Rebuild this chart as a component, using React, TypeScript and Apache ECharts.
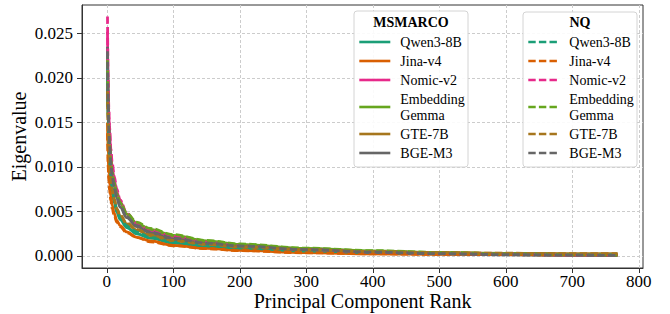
import React, { useEffect, useRef } from "react";
import * as echarts from "echarts";

const FONT = "Liberation Serif, Times New Roman, serif";

const ranks = [1, 2, 3, 4, 6, 8, 11, 15, 20, 30, 45, 65, 100, 150, 200, 300, 400, 500, 600, 700, 768];

const models = ["Qwen3-8B", "Jina-v4", "Nomic-v2", "Embedding Gemma", "GTE-7B", "BGE-M3"];
const colors = ["#1b9e77", "#d95f02", "#e7298a", "#66a61e", "#a6761d", "#666666"];

const qwenMS = [0.0205, 0.0150, 0.0124, 0.0107, 0.0086, 0.0073, 0.0060, 0.0049, 0.0041, 0.0032, 0.0025, 0.0020, 0.00145, 0.00105, 0.00082, 0.00052, 0.00036, 0.00027, 0.00021, 0.00017, 0.00015];
const qwenNQ = [0.0212, 0.0156, 0.0128, 0.0110, 0.0089, 0.0076, 0.0063, 0.0051, 0.0043, 0.0034, 0.0027, 0.0021, 0.00155, 0.00112, 0.00088, 0.00056, 0.00039, 0.00029, 0.00022, 0.00018, 0.00016];
const jinaMS = [0.0150, 0.0112, 0.0093, 0.0081, 0.0067, 0.0057, 0.0048, 0.0040, 0.0034, 0.0027, 0.0021, 0.0017, 0.00120, 0.00085, 0.00063, 0.00037, 0.00025, 0.00019, 0.00015, 0.00013, 0.00012];
const jinaNQ = [0.0138, 0.0100, 0.0084, 0.0074, 0.0062, 0.0053, 0.0046, 0.0038, 0.0033, 0.0026, 0.0021, 0.0016, 0.00115, 0.00082, 0.00060, 0.00036, 0.00024, 0.00018, 0.00015, 0.00013, 0.00012];
const nomicMS = [0.0252, 0.0188, 0.0158, 0.0139, 0.0115, 0.0100, 0.0086, 0.0072, 0.0061, 0.0047, 0.0036, 0.0028, 0.0021, 0.0015, 0.0011, 0.00068, 0.00044, 0.00029, 0.00019, 0.00012, 0.00008];
const nomicNQ = [0.0269, 0.0200, 0.0167, 0.0146, 0.0121, 0.0105, 0.0090, 0.0075, 0.0063, 0.0048, 0.0037, 0.0029, 0.0022, 0.00155, 0.00115, 0.00071, 0.00046, 0.00030, 0.00020, 0.00013, 0.00009];
const gemmaMS = [0.0226, 0.0170, 0.0145, 0.0128, 0.0108, 0.0095, 0.0083, 0.0070, 0.0060, 0.0047, 0.0037, 0.0030, 0.0023, 0.0017, 0.0013, 0.00085, 0.00058, 0.00038, 0.00025, 0.00015, 0.00010];
const gemmaNQ = [0.0220, 0.0166, 0.0142, 0.0126, 0.0107, 0.0094, 0.0082, 0.0070, 0.0060, 0.0048, 0.0038, 0.0031, 0.0024, 0.00175, 0.00135, 0.00088, 0.00060, 0.00040, 0.00026, 0.00016, 0.00011];
const gteMS = [0.0190, 0.0144, 0.0121, 0.0106, 0.0087, 0.0076, 0.0064, 0.0053, 0.0045, 0.0036, 0.0029, 0.0023, 0.0017, 0.0013, 0.0010, 0.00068, 0.00048, 0.00037, 0.00030, 0.00026, 0.00025];
const gteNQ = [0.0185, 0.0140, 0.0118, 0.0104, 0.0086, 0.0075, 0.0064, 0.0053, 0.0046, 0.0037, 0.0030, 0.0024, 0.00175, 0.00132, 0.00102, 0.00070, 0.00050, 0.00038, 0.00031, 0.00027, 0.00026];
const bgeMS = [0.0235, 0.0176, 0.0147, 0.0127, 0.0104, 0.0091, 0.0078, 0.0065, 0.0055, 0.0043, 0.0033, 0.0026, 0.0019, 0.0014, 0.0011, 0.00070, 0.00042, 0.00025, 0.00014, 0.00008, 0.00005];
const bgeNQ = [0.0230, 0.0172, 0.0144, 0.0125, 0.0103, 0.0090, 0.0078, 0.0066, 0.0056, 0.0044, 0.0034, 0.0027, 0.0020, 0.00145, 0.00112, 0.00072, 0.00043, 0.00026, 0.00015, 0.00009, 0.00006];

const msValues = [qwenMS, jinaMS, nomicMS, gemmaMS, gteMS, bgeMS];
const nqValues = [qwenNQ, jinaNQ, nomicNQ, gemmaNQ, gteNQ, bgeNQ];

const xTicks = [0, 100, 200, 300, 400, 500, 600, 700, 800];
const yTicks = [0, 0.005, 0.01, 0.015, 0.02, 0.025];

export default function App() {
  const ref = useRef<HTMLDivElement>(null);
  useEffect(() => {
    if (!ref.current) return;
    const chart = echarts.init(ref.current, null, { renderer: "svg" });

    const mkSeries = (prefix: string, vals: number[][], dashed: boolean) =>
      models.map((m, i) => ({
        name: prefix + "|" + m,
        type: "line",
        data: ranks.map((r, k) => [r, vals[i][k]]),
        showSymbol: false,
        symbol: "none",
        symbolSize: 0,
        smooth: 0.35,
        smoothMonotone: "x",
        lineStyle: {
          color: colors[i],
          width: 2.8,
          type: dashed ? [7.4, 3.2] : "solid",
        },
        itemStyle: { color: colors[i] },
        emphasis: { disabled: true },
        z: 2,
      }));

    const series = [...mkSeries("MS", msValues, false), ...mkSeries("NQ", nqValues, true)];

    const fmt = (name: string) => {
      const n = name.split("|")[1];
      return n === "Embedding Gemma" ? "Embedding\nGemma" : n;
    };

    const legendBase = {
      orient: "vertical",
      itemWidth: 31,
      itemHeight: 14,
      itemGap: 3,
      padding: 0,
      selectedMode: false,
      formatter: fmt,
      itemStyle: { opacity: 0, borderWidth: 0 },
      lineStyle: { width: 2.6 },
      textStyle: {
        fontFamily: FONT,
        fontSize: 14,
        color: "#000",
        lineHeight: 16,
        padding: [0, 0, 0, 5],
      },
      z: 10,
    };

    const option = {
      animation: false,
      backgroundColor: "#fff",
      textStyle: { fontFamily: FONT },
      grid: {
        left: 82,
        right: 27,
        top: 5,
        bottom: 46,
        show: true,
        borderColor: "#333",
        borderWidth: 1,
        containLabel: false,
        outerBoundsMode: "none",
      },
      xAxis: {
        type: "value",
        min: -37.35,
        max: 806.35,
        name: "Principal Component Rank",
        nameLocation: "middle",
        nameGap: 23,
        nameMoveOverlap: false,
        nameTextStyle: { fontFamily: FONT, fontSize: 20, color: "#000", lineHeight: 20 },
        axisLine: { show: true, onZero: false, lineStyle: { color: "#333", width: 1 } },
        axisTick: { show: true, length: 5, lineStyle: { color: "#333" }, customValues: xTicks },
        axisLabel: {
          fontFamily: FONT,
          fontSize: 17,
          lineHeight: 17,
          color: "#000",
          margin: 5,
          customValues: xTicks,
          formatter: (v: number) => String(v),
        },
        splitLine: { show: true, lineStyle: { color: "#cccccc", type: [3, 2], width: 1 } },
      },
      yAxis: {
        type: "value",
        min: -0.00135,
        max: 0.0282,
        name: "Eigenvalue",
        nameLocation: "middle",
        nameGap: 53,
        nameMoveOverlap: false,
        nameTextStyle: { fontFamily: FONT, fontSize: 20, color: "#000" },
        axisLine: { show: true, onZero: false, lineStyle: { color: "#333", width: 1 } },
        axisTick: { show: true, length: 5, lineStyle: { color: "#333" }, customValues: yTicks },
        axisLabel: {
          fontFamily: FONT,
          fontSize: 17,
          color: "#000",
          margin: 9,
          customValues: yTicks,
          formatter: (v: number) => v.toFixed(3),
        },
        splitLine: { show: true, lineStyle: { color: "#cccccc", type: [3, 2], width: 1 } },
      },
      legend: [
        { ...legendBase, left: 358, top: 34, data: models.map((m) => "MS|" + m) },
        { ...legendBase, left: 527, top: 34, data: models.map((m) => "NQ|" + m) },
      ],
      graphic: [
        {
          type: "rect",
          z: 5,
          shape: { x: 354, y: 11, width: 114, height: 156, r: 3 },
          style: { fill: "rgba(255,255,255,0.9)", stroke: "#d4d4d4", lineWidth: 1 },
        },
        {
          type: "rect",
          z: 5,
          shape: { x: 523, y: 12, width: 114, height: 155, r: 3 },
          style: { fill: "rgba(255,255,255,0.9)", stroke: "#d4d4d4", lineWidth: 1 },
        },
        {
          type: "text",
          z: 6,
          x: 411,
          y: 22,
          style: {
            text: "MSMARCO",
            fontFamily: FONT,
            fontSize: 14,
            fontWeight: "bold",
            fill: "#000",
            align: "center",
            verticalAlign: "middle",
          },
        },
        {
          type: "text",
          z: 6,
          x: 580,
          y: 22,
          style: {
            text: "NQ",
            fontFamily: FONT,
            fontSize: 14,
            fontWeight: "bold",
            fill: "#000",
            align: "center",
            verticalAlign: "middle",
          },
        },
      ],
      series,
    };

    chart.setOption(option as any);
    return () => chart.dispose();
  }, []);

  return (
    <div
      ref={ref}
      style={{ position: "absolute", left: 0, top: 0, width: 670, height: 314 }}
    />
  );
}
